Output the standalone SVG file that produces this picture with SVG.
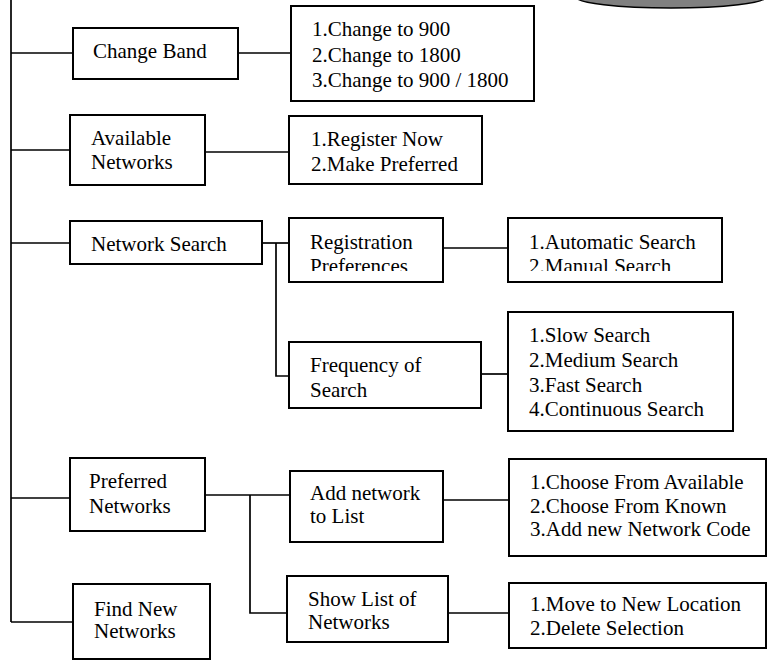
<svg xmlns="http://www.w3.org/2000/svg" width="767" height="660" viewBox="0 0 767 660">
  <style>
    .box { fill: #ffffff; stroke: #000000; stroke-width: 2; }
    .link { fill: none; stroke: #000000; stroke-width: 1.7; }
    text { font-family: "Liberation Serif", "Times New Roman", serif; font-size: 21px; fill: #000000; }
  </style>
  <defs>
    <clipPath id="clipRegPrefs"><rect x="289" y="218" width="154" height="53"/></clipPath>
    <clipPath id="clipRegOptions"><rect x="508" y="218" width="214" height="53"/></clipPath>
  </defs>
  <rect x="0" y="0" width="767" height="660" fill="#ffffff"/>

  <!-- partial grey ellipse at the top edge -->
  <ellipse cx="671" cy="-3" rx="95" ry="11" fill="#808080" stroke="#000000" stroke-width="1.5"/>

  <g id="connectors">
    <path class="link" d="M11 0 V622"/>
    <path class="link" d="M11 53 H73"/>
    <path class="link" d="M238 53 H291"/>
    <path class="link" d="M11 150 H70"/>
    <path class="link" d="M205 152 H289"/>
    <path class="link" d="M11 243 H70"/>
    <path class="link" d="M262 243 H289"/>
    <path class="link" d="M276 243 V376 H289"/>
    <path class="link" d="M443 248 H508"/>
    <path class="link" d="M481 374 H508"/>
    <path class="link" d="M11 498 H70"/>
    <path class="link" d="M205 495 H290"/>
    <path class="link" d="M250 495 V613 H287"/>
    <path class="link" d="M443 500 H509"/>
    <path class="link" d="M448 613 H509"/>
    <path class="link" d="M11 622 H73"/>
  </g>

  <g id="changeBand">
    <rect class="box" x="73" y="28" width="165" height="51"/>
    <text x="93" y="58">Change Band</text>
  </g>
  <g id="bandOptions">
    <rect class="box" x="291" y="6" width="243" height="95"/>
    <text x="312" y="36">1.Change to 900</text>
    <text x="312" y="62">2.Change to 1800</text>
    <text x="312" y="87">3.Change to 900 / 1800</text>
  </g>

  <g id="availableNetworks">
    <rect class="box" x="70" y="115" width="135" height="70"/>
    <text x="91" y="145">Available</text>
    <text x="91" y="169">Networks</text>
  </g>
  <g id="availableOptions">
    <rect class="box" x="289" y="116" width="193" height="68"/>
    <text x="311" y="146">1.Register Now</text>
    <text x="311" y="171">2.Make Preferred</text>
  </g>

  <g id="networkSearch">
    <rect class="box" x="70" y="221" width="192" height="43"/>
    <text x="91" y="251">Network Search</text>
  </g>
  <g id="registrationPreferences">
    <rect class="box" x="289" y="218" width="154" height="64"/>
    <g clip-path="url(#clipRegPrefs)">
      <text x="310" y="249">Registration</text>
      <text x="310" y="273">Preferences</text>
    </g>
  </g>
  <g id="registrationOptions">
    <rect class="box" x="508" y="218" width="214" height="64"/>
    <g clip-path="url(#clipRegOptions)">
      <text x="529" y="249">1.Automatic Search</text>
      <text x="529" y="273">2.Manual Search</text>
    </g>
  </g>
  <g id="searchFrequency">
    <rect class="box" x="289" y="342" width="192" height="66"/>
    <text x="310" y="372">Frequency of</text>
    <text x="310" y="397">Search</text>
  </g>
  <g id="frequencyOptions">
    <rect class="box" x="508" y="312" width="225" height="119"/>
    <text x="529" y="342">1.Slow Search</text>
    <text x="529" y="367">2.Medium Search</text>
    <text x="529" y="392">3.Fast Search</text>
    <text x="529" y="416">4.Continuous Search</text>
  </g>

  <g id="preferredNetworks">
    <rect class="box" x="70" y="458" width="135" height="73"/>
    <text x="89" y="488">Preferred</text>
    <text x="89" y="513">Networks</text>
  </g>
  <g id="addNetwork">
    <rect class="box" x="290" y="471" width="153" height="71"/>
    <text x="310" y="500">Add network</text>
    <text x="310" y="523">to List</text>
  </g>
  <g id="addOptions">
    <rect class="box" x="509" y="459" width="257" height="97"/>
    <text x="530" y="489">1.Choose From Available</text>
    <text x="530" y="513">2.Choose From Known</text>
    <text x="530" y="536">3.Add new Network Code</text>
  </g>
  <g id="showList">
    <rect class="box" x="287" y="576" width="161" height="66"/>
    <text x="308" y="606">Show List of</text>
    <text x="308" y="629">Networks</text>
  </g>
  <g id="listOptions">
    <rect class="box" x="509" y="583" width="257" height="65"/>
    <text x="530" y="611">1.Move to New Location</text>
    <text x="530" y="635">2.Delete Selection</text>
  </g>

  <g id="findNewNetworks">
    <rect class="box" x="73" y="584" width="137" height="75"/>
    <text x="94" y="616">Find New</text>
    <text x="94" y="638">Networks</text>
  </g>
</svg>
